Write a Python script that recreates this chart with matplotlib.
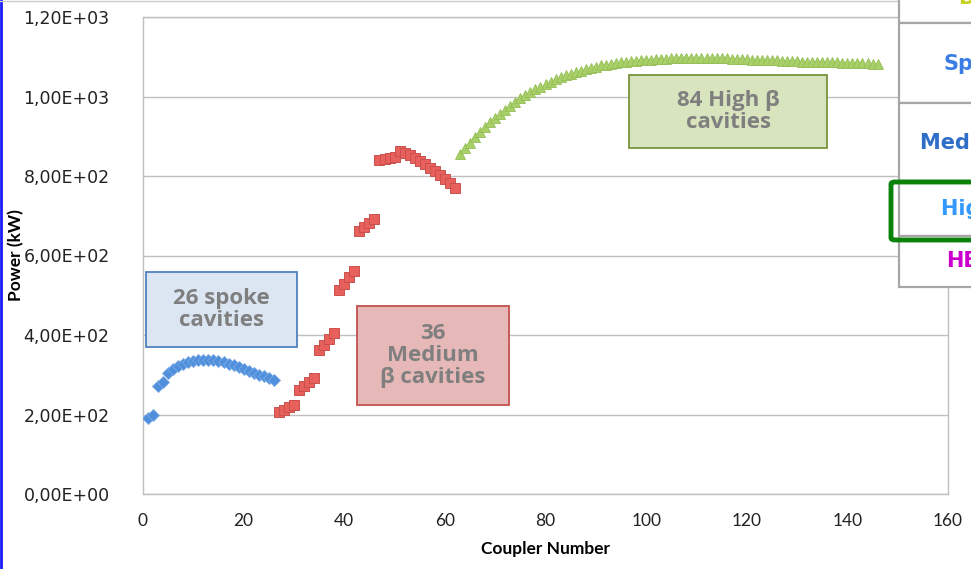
import matplotlib
matplotlib.use("Agg")
import matplotlib.pyplot as plt
from matplotlib.patches import Rectangle, FancyBboxPatch
from matplotlib.lines import Line2D
from matplotlib.ticker import FuncFormatter

# Spoke cavities (couplers 1-26)
spoke_x = list(range(1, 27))
spoke_p = [190, 200, 272, 282, 305, 315, 322, 328, 332, 335, 337, 338, 338,
           337, 335, 332, 328, 324, 320, 315, 310, 305, 300, 296, 292, 288]

# Medium beta cavities (couplers 27-62)
med_x = list(range(27, 63))
med_p = [207, 212, 218, 225, 262, 272, 282, 292, 362, 376, 390, 404,
         513, 528, 545, 560, 662, 672, 682, 691,
         840, 843, 846, 849, 862, 858, 852, 845, 838, 830, 821, 812,
         802, 792, 782, 770]

# High beta cavities (couplers 63-146)
high_x = list(range(63, 147))
high_p = [855, 870, 884, 898, 911, 923, 935, 946, 957, 967, 977, 986, 995,
          1003, 1011, 1018, 1025, 1031, 1037, 1043, 1048, 1053, 1057, 1061,
          1065, 1069, 1072, 1075, 1078, 1080, 1082, 1084, 1086, 1088, 1089,
          1090, 1091, 1092, 1093, 1094, 1095, 1095, 1096, 1096, 1097, 1097,
          1097, 1097, 1097, 1097, 1097, 1096, 1096, 1096, 1095, 1095, 1094,
          1094, 1093, 1093, 1092, 1092, 1091, 1091, 1090, 1090, 1089, 1089,
          1088, 1088, 1087, 1087, 1087, 1086, 1086, 1086, 1085, 1085, 1085,
          1084, 1084, 1084, 1083, 1083]

x_ticks = [0, 20, 40, 60, 80, 100, 120, 140, 160]
y_ticks = [0, 200, 400, 600, 800, 1000, 1200]

# table rows at right (partly cut off in the original slide)
row_labels = ["DTL", "Spoke", "Medium \u03b2", "High \u03b2", "HEBT"]
row_colors = ["#c8d21e", "#3b7de6", "#2e6ec8", "#3399ff", "#cc00cc"]

GRID = "#bfbfbf"
TXT = "#7f7f7f"

W, H = 971, 569
fig = plt.figure(figsize=(W / 100, H / 100), dpi=100)
fig.patch.set_facecolor("white")

L, R, T, B = 143, 948, 17, 494
ax = fig.add_axes([L / W, 1 - B / H, (R - L) / W, (B - T) / H])

ax.plot(spoke_x, spoke_p, ls="none", marker="D", ms=6.5, mfc="#4f8fdc",
        mec="#7aaae6", mew=0.6, zorder=3)
ax.plot(med_x, med_p, ls="none", marker="s", ms=7, mfc="#e8605c",
        mec="#c9504c", mew=0.7, zorder=3)
ax.plot(high_x, high_p, ls="none", marker="^", ms=7.5, mfc="#a8cf68",
        mec="#94bf55", mew=0.6, zorder=3)

ax.set_xlim(0, 160)
ax.set_ylim(0, 1200)
ax.set_xticks(x_ticks)
ax.set_yticks(y_ticks)
ax.yaxis.set_major_formatter(FuncFormatter(
    lambda v, p: ("%.2E" % v).replace(".", ",")))
ax.grid(axis="y", color=GRID, lw=1)
ax.set_axisbelow(True)
for s in ax.spines.values():
    s.set_color(GRID)
    s.set_linewidth(1)
ax.tick_params(length=0)
ax.tick_params(axis="y", pad=24, labelsize=12.5, labelcolor="#222222")
ax.tick_params(axis="x", pad=14, labelsize=12.5, labelcolor="#222222")
for lab in ax.get_xticklabels():
    lab.set_family("Lato")
ax.set_xlabel("Coupler Number", family="Lato", fontweight="bold",
              fontsize=12.5, labelpad=8)
ax.set_ylabel("Power (kW)", family="Lato", fontweight="bold",
              fontsize=12.5)
ax.yaxis.set_label_coords(-0.148, 0.5)

# annotation boxes
def label_box(x0, y0, x1, y1, fc, ec, text):
    ax.add_patch(Rectangle((x0, y0), x1 - x0, y1 - y0, facecolor=fc,
                           edgecolor=ec, lw=1.3, zorder=4))
    ax.text((x0 + x1) / 2, (y0 + y1) / 2, text, ha="center", va="center",
            color=TXT, fontsize=16, fontweight="bold", family="Open Sans",
            linespacing=1.08, zorder=5)

label_box(0.6, 370, 30.6, 558, "#dce6f2", "#4f81bd", "26 spoke\ncavities")
label_box(42.5, 224, 72.7, 473, "#e6b9b8", "#c0504d", "36\nMedium\n\u03b2 cavities")
label_box(96.6, 870, 136.0, 1054, "#d7e4bd", "#77933c", "84 High \u03b2\ncavities")

# overlaid table on the right
def fx(px):
    return px / W

def fy(py):
    return 1 - py / H

rows = [(-60, 23), (23, 103), (103, 181), (181, 236), (236, 287)]
text_x = [958, 943, 920, 941, 946]
text_y = [-2, 64, 143, 209, 261]
for (top, bot), lab, col, tx, ty in zip(rows, row_labels, row_colors, text_x, text_y):
    fig.patches.append(Rectangle((fx(899), fy(bot)), fx(200), fy(top) - fy(bot),
                                 transform=fig.transFigure, facecolor="white",
                                 edgecolor="#a6a6a6", lw=1.6, zorder=6))
    fig.text(fx(tx), fy(ty), lab, ha="left", va="center", color=col,
             fontsize=15, fontweight="bold", family="DejaVu Sans", zorder=7)

fig.patches.append(FancyBboxPatch((fx(891), fy(240)), fx(200), fy(182) - fy(240),
                                  boxstyle="round,pad=0,rounding_size=0.004",
                                  transform=fig.transFigure, facecolor="none",
                                  edgecolor="#0a820a", lw=3.5, zorder=8))

# slide edges
fig.lines.append(Line2D([0.0012, 0.0012], [0, 1], transform=fig.transFigure,
                        color="#1a1aff", lw=2))
fig.lines.append(Line2D([0, 1], [0.999, 0.999], transform=fig.transFigure,
                        color="#cccccc", lw=1))

fig.savefig("out.png", dpi=100)
